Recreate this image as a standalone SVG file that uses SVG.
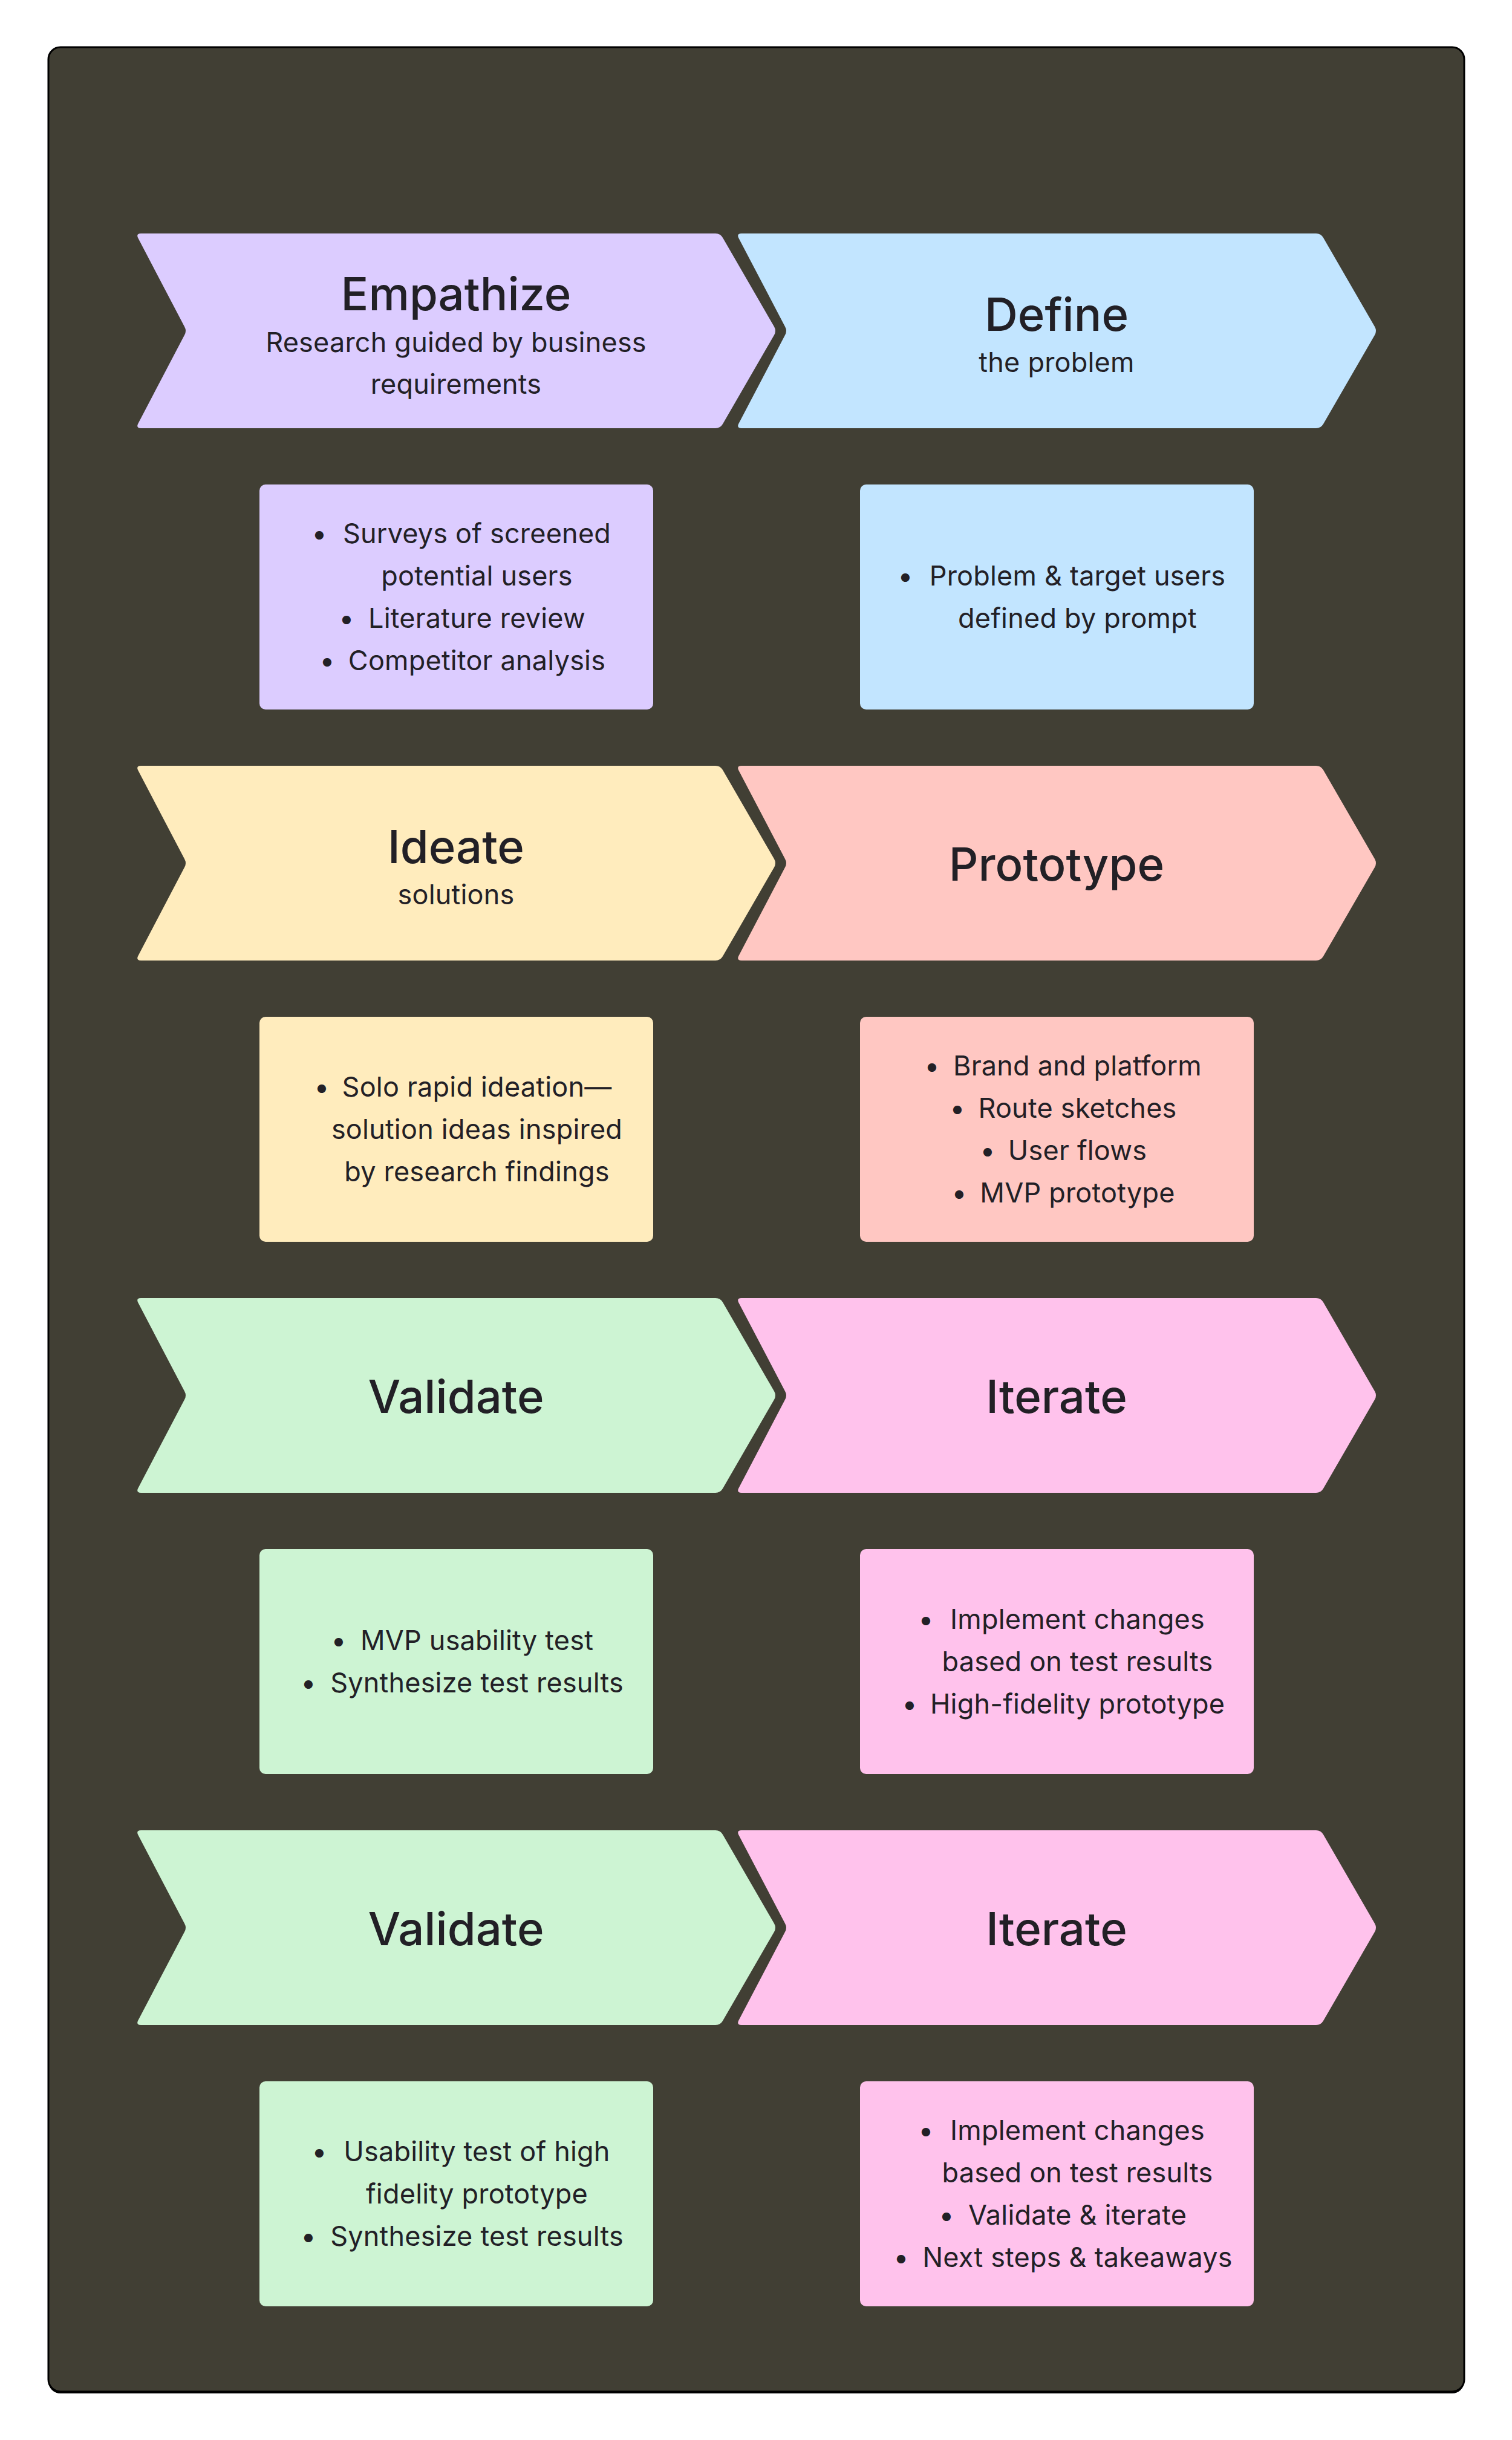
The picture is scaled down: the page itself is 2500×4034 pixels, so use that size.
<svg xmlns="http://www.w3.org/2000/svg" xmlns:xlink="http://www.w3.org/1999/xlink" width="2500" height="4034" viewBox="0 0 2500 4034">
  <defs>
    <path id="chev" d="M 8,0 L 958,0 Q 966,0 970,7 L 1055,154 Q 1059,161 1055,168 L 970,315 Q 966,322 958,322 L 8,322 Q 0,322 3,315 L 80,168 Q 84,161 80,154 L 3,7 Q 0,0 8,0 Z"/>
    <style>
      .title { font-family: Inter, "Noto Sans", "Liberation Sans", sans-serif; font-size: 76px; font-weight: 500; fill: #222026; text-anchor: middle; }
      .sub { font-family: Inter, "Noto Sans", "Liberation Sans", sans-serif; font-size: 45px; font-weight: 400; letter-spacing: 0.2px; fill: #222026; text-anchor: middle; }
      .item { font-family: Inter, "Noto Sans", "Liberation Sans", sans-serif; font-size: 45px; font-weight: 400; letter-spacing: 0.2px; fill: #222026; text-anchor: middle; }
      .purple { fill: #DCCCFF; }
      .blue { fill: #C2E5FF; }
      .yellow { fill: #FFECBD; }
      .red { fill: #FFC7C2; }
      .green { fill: #CDF4D3; }
      .pink { fill: #FFC2EC; }
    </style>
  </defs>

  <g id="frame">
    <rect x="80" y="81" width="2341" height="3876" rx="20" ry="20" fill="#000000"/>
    <rect x="80" y="78" width="2341" height="3876" rx="20" ry="20" fill="#413F34" stroke="#000000" stroke-width="3"/>
  </g>

  <g id="connectors"/>

  <!-- Row 1 -->
  <g id="empathize">
    <use xlink:href="#chev" x="225" y="386" class="purple"/>
    <text class="title" x="754" y="513">Empathize</text>
    <text class="sub" x="754" y="582">Research guided by business</text>
    <text class="sub" x="754" y="651">requirements</text>
  </g>
  <g id="define">
    <use xlink:href="#chev" x="1218" y="386" class="blue"/>
    <text class="title" x="1747" y="547">Define</text>
    <text class="sub" x="1747" y="615">the problem</text>
  </g>
  <g id="empathize-details">
    <rect x="429" y="801" width="651" height="372" rx="10" ry="10" class="purple"/>
    <text class="item" x="528" y="898">•</text>
    <text class="item" x="788.5" y="898">Surveys of screened</text>
    <text class="item" x="788.5" y="968">potential users</text>
    <text class="item" x="573" y="1038">•</text>
    <text class="item" x="788.5" y="1038">Literature review</text>
    <text class="item" x="541" y="1108">•</text>
    <text class="item" x="788.5" y="1108">Competitor analysis</text>
  </g>
  <g id="define-details">
    <rect x="1422" y="801" width="651" height="372" rx="10" ry="10" class="blue"/>
    <text class="item" x="1497" y="968">•</text>
    <text class="item" x="1781.5" y="968">Problem &amp; target users</text>
    <text class="item" x="1781.5" y="1038">defined by prompt</text>
  </g>

  <!-- Row 2 -->
  <g id="ideate">
    <use xlink:href="#chev" x="225" y="1266" class="yellow"/>
    <text class="title" x="754" y="1427">Ideate</text>
    <text class="sub" x="754" y="1495">solutions</text>
  </g>
  <g id="prototype">
    <use xlink:href="#chev" x="1218" y="1266" class="red"/>
    <text class="title" x="1747" y="1456">Prototype</text>
  </g>
  <g id="ideate-details">
    <rect x="429" y="1681" width="651" height="372" rx="10" ry="10" class="yellow"/>
    <text class="item" x="532" y="1813">•</text>
    <text class="item" x="788.5" y="1813">Solo rapid ideation—</text>
    <text class="item" x="788.5" y="1883">solution ideas inspired</text>
    <text class="item" x="788.5" y="1953">by research findings</text>
  </g>
  <g id="prototype-details">
    <rect x="1422" y="1681" width="651" height="372" rx="10" ry="10" class="red"/>
    <text class="item" x="1541" y="1778">•</text>
    <text class="item" x="1781.5" y="1778">Brand and platform</text>
    <text class="item" x="1583" y="1848">•</text>
    <text class="item" x="1781.5" y="1848">Route sketches</text>
    <text class="item" x="1633" y="1918">•</text>
    <text class="item" x="1781.5" y="1918">User flows</text>
    <text class="item" x="1586" y="1988">•</text>
    <text class="item" x="1781.5" y="1988">MVP prototype</text>
  </g>

  <!-- Row 3 -->
  <g id="validate-1">
    <use xlink:href="#chev" x="225" y="2146" class="green"/>
    <text class="title" x="754" y="2336">Validate</text>
  </g>
  <g id="iterate-1">
    <use xlink:href="#chev" x="1218" y="2146" class="pink"/>
    <text class="title" x="1747" y="2336">Iterate</text>
  </g>
  <g id="validate-1-details">
    <rect x="429" y="2561" width="651" height="372" rx="10" ry="10" class="green"/>
    <text class="item" x="560" y="2728">•</text>
    <text class="item" x="788.5" y="2728">MVP usability test</text>
    <text class="item" x="510" y="2798">•</text>
    <text class="item" x="788.5" y="2798">Synthesize test results</text>
  </g>
  <g id="iterate-1-details">
    <rect x="1422" y="2561" width="651" height="372" rx="10" ry="10" class="pink"/>
    <text class="item" x="1531" y="2693">•</text>
    <text class="item" x="1781.5" y="2693">Implement changes</text>
    <text class="item" x="1781.5" y="2763">based on test results</text>
    <text class="item" x="1504" y="2833">•</text>
    <text class="item" x="1781.5" y="2833">High-fidelity prototype</text>
  </g>

  <!-- Row 4 -->
  <g id="validate-2">
    <use xlink:href="#chev" x="225" y="3026" class="green"/>
    <text class="title" x="754" y="3216">Validate</text>
  </g>
  <g id="iterate-2">
    <use xlink:href="#chev" x="1218" y="3026" class="pink"/>
    <text class="title" x="1747" y="3216">Iterate</text>
  </g>
  <g id="validate-2-details">
    <rect x="429" y="3441" width="651" height="372" rx="10" ry="10" class="green"/>
    <text class="item" x="528" y="3573">•</text>
    <text class="item" x="788.5" y="3573">Usability test of high</text>
    <text class="item" x="788.5" y="3643">fidelity prototype</text>
    <text class="item" x="510" y="3713">•</text>
    <text class="item" x="788.5" y="3713">Synthesize test results</text>
  </g>
  <g id="iterate-2-details">
    <rect x="1422" y="3441" width="651" height="372" rx="10" ry="10" class="pink"/>
    <text class="item" x="1531" y="3538">•</text>
    <text class="item" x="1781.5" y="3538">Implement changes</text>
    <text class="item" x="1781.5" y="3608">based on test results</text>
    <text class="item" x="1565" y="3678">•</text>
    <text class="item" x="1781.5" y="3678">Validate &amp; iterate</text>
    <text class="item" x="1490" y="3748">•</text>
    <text class="item" x="1781.5" y="3748">Next steps &amp; takeaways</text>
  </g>
</svg>
